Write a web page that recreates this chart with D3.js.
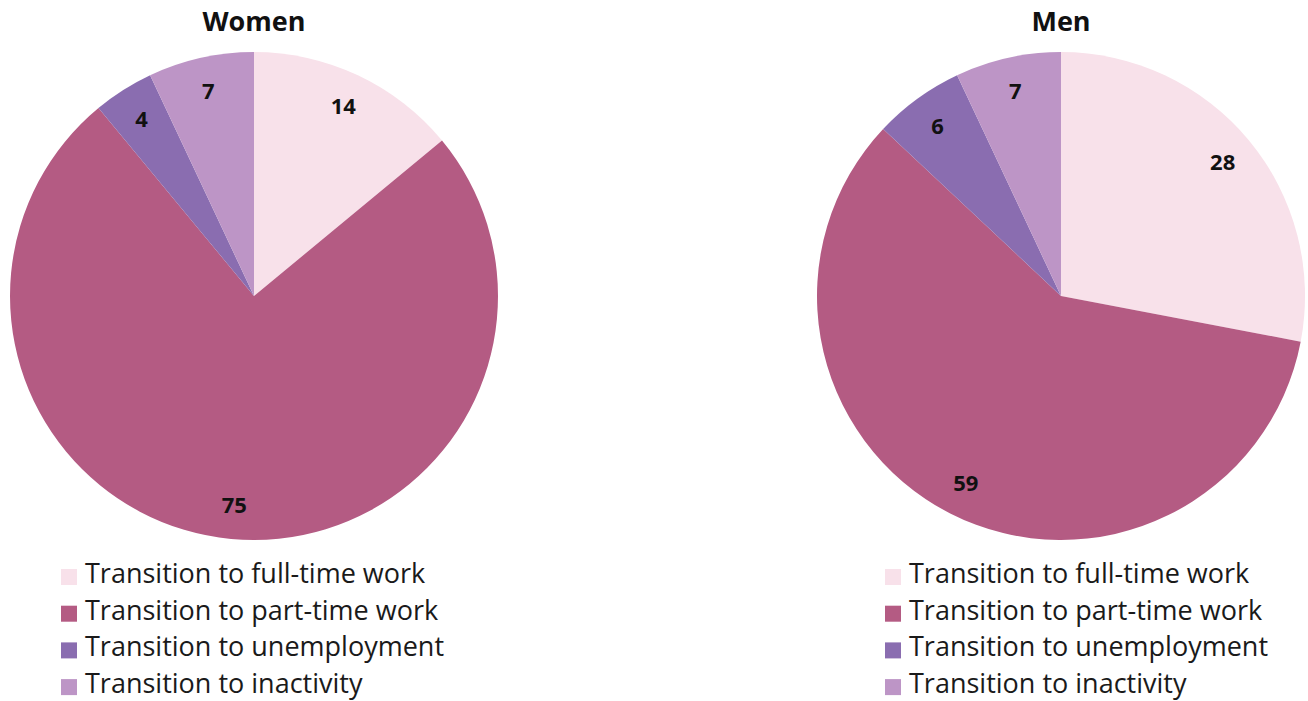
<!DOCTYPE html>
<html>
<head>
<meta charset="utf-8">
<script src="https://cdn.jsdelivr.net/npm/d3@7"></script>
<style>
  html, body { margin: 0; padding: 0; background: #fff; }
  svg { display: block; font-family: "Open Sans", sans-serif; }
</style>
</head>
<body>
<div id="chart"></div>
<script>
const categories = [
  'Transition to full-time work',
  'Transition to part-time work',
  'Transition to unemployment',
  'Transition to inactivity'
];
const colors = ['#f8e1ea', '#b45b83', '#8a6db0', '#bd95c6'];
const groups = ['Women', 'Men'];
const womenValues = [14, 75, 4, 7];
const menValues = [28, 59, 6, 7];

const W = 1308, H = 701;
const radius = 244;
const panels = [
  { title: groups[0], values: womenValues, cx: 254, legendX: 61 },
  { title: groups[1], values: menValues, cx: 1061, legendX: 885 }
];
const cy = 296;

const svg = d3.select('#chart').append('svg')
  .attr('width', W)
  .attr('height', H)
  .attr('viewBox', `0 0 ${W} ${H}`);

const pie = d3.pie().sort(null).value(d => d);
const arc = d3.arc().innerRadius(0).outerRadius(radius);
const labelArc = d3.arc().innerRadius(radius * 0.86).outerRadius(radius * 0.86);

panels.forEach(p => {
  // Title
  svg.append('text')
    .attr('x', p.cx)
    .attr('y', 31)
    .attr('text-anchor', 'middle')
    .attr('font-size', 27)
    .attr('font-weight', 700)
    .attr('fill', '#111')
    .text(p.title);

  const g = svg.append('g').attr('transform', `translate(${p.cx},${cy})`);
  const arcs = pie(p.values);

  g.selectAll('path')
    .data(arcs)
    .join('path')
    .attr('d', arc)
    .attr('fill', (d, i) => colors[i]);

  g.selectAll('.slice-label')
    .data(arcs)
    .join('text')
    .attr('class', 'slice-label')
    .attr('transform', d => `translate(${labelArc.centroid(d)})`)
    .attr('text-anchor', 'middle')
    .attr('dy', '0.35em')
    .attr('font-size', 22)
    .attr('font-weight', 700)
    .attr('fill', '#111')
    .text(d => d.data);

  // Legend
  const lg = svg.append('g').attr('transform', `translate(${p.legendX},569)`);
  const row = lg.selectAll('.legend-row')
    .data(categories)
    .join('g')
    .attr('class', 'legend-row')
    .attr('transform', (d, i) => `translate(0,${i * 36.7})`);

  row.append('rect')
    .attr('width', 16)
    .attr('height', 16)
    .attr('fill', (d, i) => colors[i]);

  row.append('text')
    .attr('x', 24)
    .attr('y', 14)
    .attr('font-size', 27)
    .attr('fill', '#1a1a1a')
    .text(d => d);
});
</script>
</body>
</html>
